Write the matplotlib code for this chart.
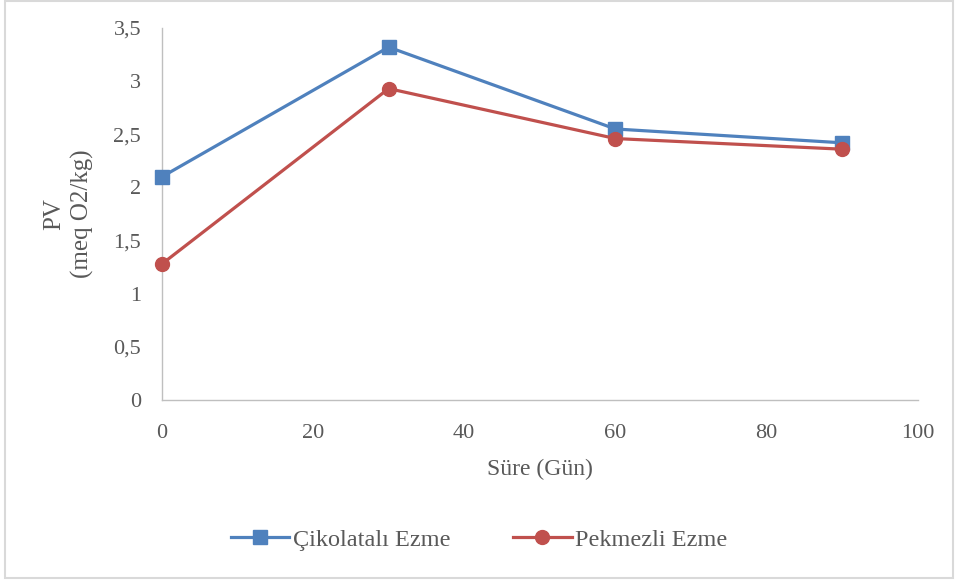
import matplotlib
matplotlib.use("Agg")
import matplotlib.pyplot as plt
from matplotlib.patches import Rectangle
from matplotlib.ticker import FuncFormatter

# Peroksit değeri (PV) ölçümleri, depolama süresine göre
gun = [0, 30, 60, 90]
cikolatali = [2.10, 3.32, 2.55, 2.42]
pekmezli = [1.28, 2.93, 2.46, 2.36]
seri_adlari = ["Çikolatalı Ezme", "Pekmezli Ezme"]
x_ticks = [0, 20, 40, 60, 80, 100]
y_ticks = [0, 0.5, 1, 1.5, 2, 2.5, 3, 3.5]

plt.rcParams["font.family"] = ["Liberation Serif", "DejaVu Serif"]
text_col = "#595959"
axis_col = "#bfbfbf"

fig = plt.figure(figsize=(9.58, 5.8), dpi=100)
ax = fig.add_axes([0.169, 0.3103, 0.789, 0.6414])

ax.plot(gun, cikolatali, color="#4F81BD", lw=2.3, marker="s", ms=9.5,
        label=seri_adlari[0], clip_on=False, zorder=3)
ax.plot(gun, pekmezli, color="#C0504D", lw=2.3, marker="o", ms=10,
        label=seri_adlari[1], clip_on=False, zorder=3)

ax.set_xlim(0, 100)
ax.set_ylim(0, 3.5)
ax.set_xticks(x_ticks)
ax.set_yticks(y_ticks)
ax.yaxis.set_major_formatter(FuncFormatter(lambda v, p: f"{v:g}".replace(".", ",")))

for side in ("top", "right"):
    ax.spines[side].set_visible(False)
for side in ("left", "bottom"):
    ax.spines[side].set_color(axis_col)
    ax.spines[side].set_linewidth(1.0)

ax.tick_params(axis="both", length=0, labelsize=16, labelcolor=text_col)
ax.tick_params(axis="y", pad=15)
ax.tick_params(axis="x", pad=17)

ax.set_xlabel("Süre (Gün)", fontsize=17, color=text_col, labelpad=12)
ax.set_ylabel("PV\n(meq O2/kg)", fontsize=18, color=text_col, labelpad=14,
              linespacing=1.3)

fig.legend(loc="center", bbox_to_anchor=(0.5, 0.069), ncol=2, frameon=False,
           fontsize=17.5, labelcolor=text_col, handlelength=2.4,
           handletextpad=0.15, columnspacing=2.6)

# dış çerçeve
fig.patches.append(Rectangle((0.005, 0.004), 0.99, 0.994, transform=fig.transFigure,
                             fill=False, edgecolor="#d9d9d9", lw=1.5))

fig.savefig("out.png", dpi=100, facecolor="white")
